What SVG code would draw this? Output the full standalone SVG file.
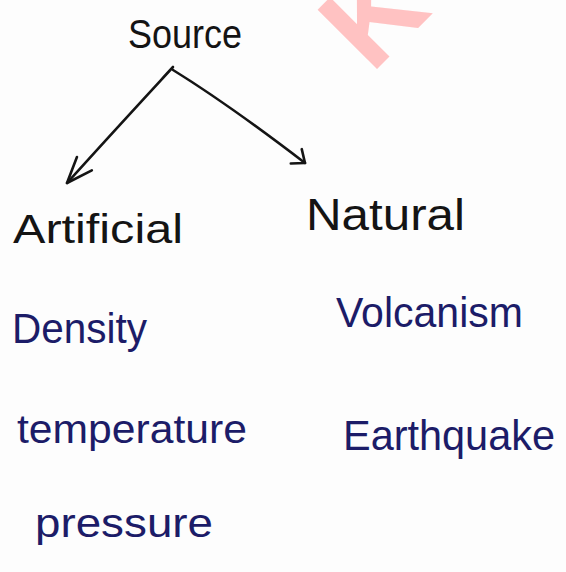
<svg xmlns="http://www.w3.org/2000/svg" width="566" height="572" viewBox="0 0 566 572">
  <style>
    .hand { font-family: "Liberation Sans", "DejaVu Sans", sans-serif; }
    .ink-black { fill: #141414; }
    .ink-blue { fill: #1c1c68; }
    .link { fill: none; stroke: #141414; stroke-width: 2.6; stroke-linecap: round; stroke-linejoin: round; }
    .head { fill: none; stroke: #141414; stroke-width: 2.6; stroke-linecap: round; stroke-linejoin: round; }
  </style>
  <defs>
    <marker id="arrow-large" markerUnits="userSpaceOnUse" viewBox="-30 -14 34 28" refX="0" refY="0" markerWidth="34" markerHeight="28" orient="auto">
      <path class="head" d="M-26,-10 L0,0 L-26,10"/>
    </marker>
    <marker id="arrow-small" markerUnits="userSpaceOnUse" viewBox="-16 -12 20 24" refX="0" refY="0" markerWidth="20" markerHeight="24" orient="auto">
      <path class="head" d="M-11,-9 L0,0 L-11,9"/>
    </marker>
  </defs>

  <rect width="566" height="572" fill="#fdfdfd"/>

  <!-- faint watermark letter in the top corner -->
  <g id="watermark">
    <text class="hand" font-weight="bold" font-size="122" fill="#ffc2c2" transform="translate(384,62) rotate(-45)" x="-18" y="0">K</text>
  </g>

  <!-- connectors -->
  <g id="connectors">
    <path class="link" d="M173,67 C150,92 112,133 67,183" marker-end="url(#arrow-large)"/>
    <path class="link" d="M173,70 Q228,104 305,163" marker-end="url(#arrow-small)"/>
  </g>

  <g id="node-source">
    <text class="hand ink-black" x="128" y="48" font-size="40" textLength="114" lengthAdjust="spacingAndGlyphs">Source</text>
  </g>

  <g id="node-artificial">
    <text class="hand ink-black" x="13" y="243" font-size="40" textLength="170" lengthAdjust="spacingAndGlyphs">Artificial</text>
  </g>

  <g id="node-natural">
    <text class="hand ink-black" x="306" y="230" font-size="44" textLength="159" lengthAdjust="spacingAndGlyphs">Natural</text>
  </g>

  <g id="item-density">
    <text class="hand ink-blue" x="12" y="343" font-size="42" textLength="135" lengthAdjust="spacingAndGlyphs">Density</text>
  </g>

  <g id="item-temperature">
    <text class="hand ink-blue" x="17" y="443" font-size="40" textLength="230" lengthAdjust="spacingAndGlyphs">temperature</text>
  </g>

  <g id="item-pressure">
    <text class="hand ink-blue" x="35" y="537" font-size="40" textLength="178" lengthAdjust="spacingAndGlyphs">pressure</text>
  </g>

  <g id="item-volcanism">
    <text class="hand ink-blue" x="336" y="327" font-size="42" textLength="187" lengthAdjust="spacingAndGlyphs">Volcanism</text>
  </g>

  <g id="item-earthquake">
    <text class="hand ink-blue" x="343" y="450" font-size="42" textLength="212" lengthAdjust="spacingAndGlyphs">Earthquake</text>
  </g>
</svg>
